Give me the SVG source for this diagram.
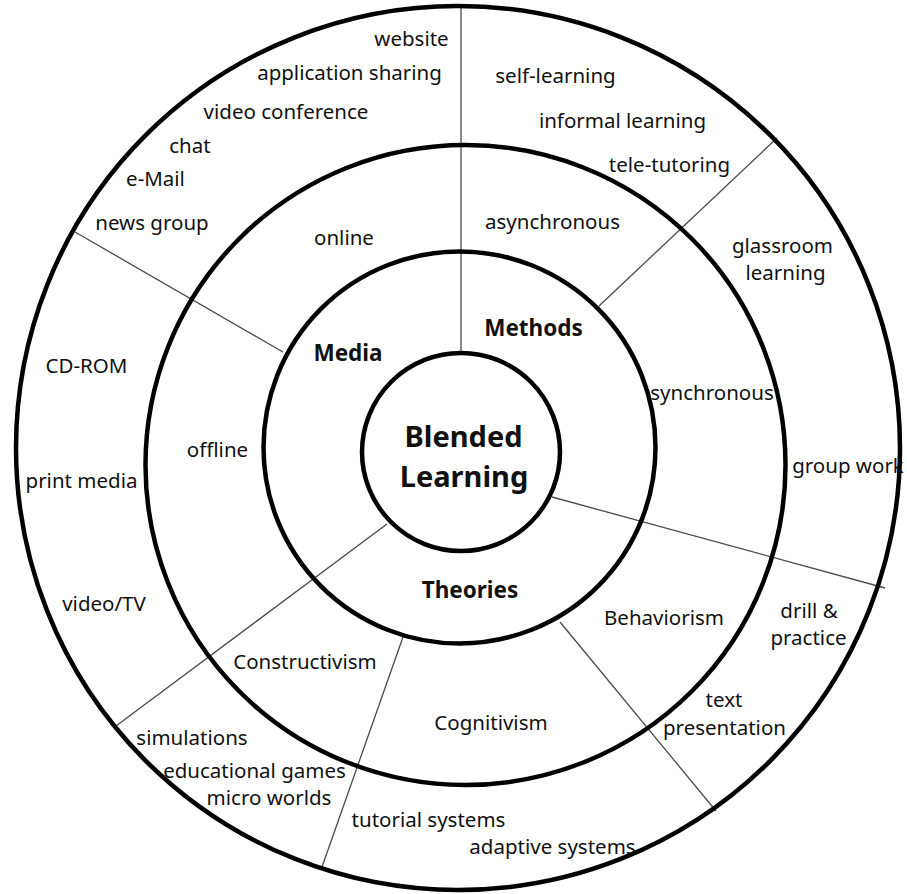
<svg xmlns="http://www.w3.org/2000/svg" width="907" height="894" viewBox="0 0 907 894">
<style>
.ring{fill:none;stroke:#000;stroke-width:4.5}
.div{stroke:#4a4a4a;stroke-width:1.3;fill:none}
text{font-family:"Noto Sans","Open Sans","DejaVu Sans",sans-serif;fill:#111;text-anchor:middle}
.t{font-size:20.5px}
.h{font-size:22.5px;font-weight:bold}
.c{font-size:29px;font-weight:bold}
</style>
<rect width="907" height="894" fill="#fff"/>
<g id="connectors">
<line class="div" x1="461" y1="353" x2="461" y2="7"/>
<line class="div" x1="599" y1="306" x2="777" y2="138"/>
<line class="div" x1="75" y1="232" x2="283" y2="352"/>
<line class="div" x1="552" y1="497" x2="885" y2="588"/>
<line class="div" x1="387" y1="524" x2="116" y2="726"/>
<line class="div" x1="403" y1="637" x2="322" y2="867"/>
<line class="div" x1="560" y1="622" x2="716" y2="811"/>
</g>
<g id="ring-outer"><circle class="ring" cx="458" cy="448" r="442"/></g>
<g id="ring-second"><circle class="ring" cx="465.5" cy="465" r="320"/></g>
<g id="ring-third"><circle class="ring" cx="459.5" cy="447.5" r="196"/></g>
<g id="center"><circle class="ring" cx="461" cy="452" r="99"/>
<text class="c" x="463.5" y="447">Blended</text>
<text class="c" x="464" y="487">Learning</text></g>
<g id="media"><text class="h" x="348" y="361">Media</text></g>
<g id="methods"><text class="h" x="533.5" y="336">Methods</text></g>
<g id="theories"><text class="h" x="470" y="598">Theories</text></g>
<g id="online"><text class="t" x="344" y="245">online</text></g>
<g id="offline"><text class="t" x="217.5" y="457">offline</text></g>
<g id="asynchronous"><text class="t" x="552.5" y="229">asynchronous</text></g>
<g id="synchronous"><text class="t" x="712" y="400">synchronous</text></g>
<g id="behaviorism"><text class="t" x="664" y="625">Behaviorism</text></g>
<g id="constructivism"><text class="t" x="305" y="669">Constructivism</text></g>
<g id="cognitivism"><text class="t" x="491" y="730">Cognitivism</text></g>
<g id="website"><text class="t" x="411.5" y="46">website</text></g>
<g id="application-sharing"><text class="t" x="349.5" y="80">application sharing</text></g>
<g id="video-conference"><text class="t" x="286" y="119">video conference</text></g>
<g id="chat"><text class="t" x="190" y="153">chat</text></g>
<g id="e-mail"><text class="t" x="155.5" y="186">e-Mail</text></g>
<g id="news-group"><text class="t" x="152" y="230">news group</text></g>
<g id="self-learning"><text class="t" x="555.5" y="83">self-learning</text></g>
<g id="informal-learning"><text class="t" x="622.5" y="128">informal learning</text></g>
<g id="tele-tutoring"><text class="t" x="669.5" y="172">tele-tutoring</text></g>
<g id="glassroom-learning"><text class="t" x="782.5" y="253">glassroom</text><text class="t" x="785.5" y="280">learning</text></g>
<g id="group-work"><text class="t" x="848" y="473">group work</text></g>
<g id="cd-rom"><text class="t" x="86.5" y="373">CD-ROM</text></g>
<g id="print-media"><text class="t" x="81.5" y="488">print media</text></g>
<g id="video-tv"><text class="t" x="104" y="611">video/TV</text></g>
<g id="drill-practice"><text class="t" x="809" y="618">drill &amp;</text><text class="t" x="808.5" y="645">practice</text></g>
<g id="text-presentation"><text class="t" x="724" y="707">text</text><text class="t" x="724.5" y="735">presentation</text></g>
<g id="simulations"><text class="t" x="192" y="745">simulations</text></g>
<g id="educational-games"><text class="t" x="254.5" y="778">educational games</text></g>
<g id="micro-worlds"><text class="t" x="269" y="805">micro worlds</text></g>
<g id="tutorial-systems"><text class="t" x="428.5" y="827">tutorial systems</text></g>
<g id="adaptive-systems"><text class="t" x="552.5" y="854">adaptive systems</text></g>
</svg>
